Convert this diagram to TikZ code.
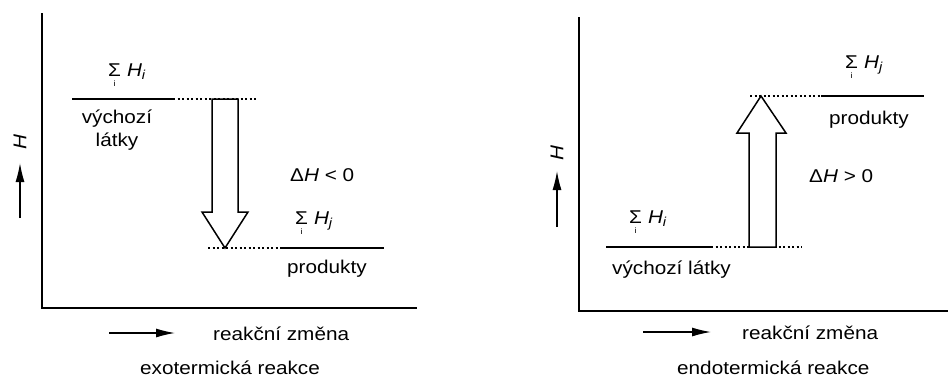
\documentclass[tikz,border=0pt]{standalone}
\usepackage{fontspec}
\setmainfont[FakeStretch=1.12]{Liberation Sans}
\usetikzlibrary{arrows.meta}

\newcommand{\sumH}[1]{{\sbox0{Σ}%
    \rlap{\hbox to \wd0{\hss\raisebox{-10pt}{\fontsize{8}{8}\selectfont i}\hss}}\usebox0}%
  \hspace{6pt}\textit{H}\textsubscript{\textit{#1}}}

\begin{document}
\begin{tikzpicture}[x=1pt, y=-1pt,
    axis/.style={line width=1.6pt},
    level/.style={line width=1.3pt},
    dotline/.style={line width=1.1pt, dash pattern=on 2pt off 2.5pt},
    harrow/.style={line width=1.3pt, -{Latex[length=19pt,width=9pt]}},
    blockarrow/.style={line width=1.5pt, fill=white},
    lbl/.style={anchor=base west, inner sep=0pt, font=\fontsize{18.5}{22}\selectfont},
    clbl/.style={anchor=base, inner sep=0pt, font=\fontsize{18.5}{22}\selectfont}]
    \useasboundingbox (0,0) rectangle (948,378);

    % exotermicka reakce
    \begin{scope}
        \coordinate (ytop1) at (42,13);
        \coordinate (orig1) at (42,308);
        \coordinate (xend1) at (417,308);
        \draw[axis] (ytop1) -- (orig1) -- (xend1);

        \coordinate (hlow1) at (20,218);
        \coordinate (hhigh1) at (20,163);
        \draw[harrow] (hlow1) -- (hhigh1);
        \node[rotate=90, inner sep=0pt, font=\fontsize{18.5}{22}\selectfont] (hlab1) at (20,142) {\textit{H}};

        \coordinate (vx1) at (72,99);
        \coordinate (vx2) at (173,99);
        \coordinate (vx3) at (258,99);
        \draw[level] (vx1) -- (vx2);
        \draw[dotline] (vx2) -- (vx3);

        \coordinate (pr1) at (208,248);
        \coordinate (pr2) at (280,248);
        \coordinate (pr3) at (384,248);
        \draw[dotline] (pr1) -- (pr2);
        \draw[level] (pr2) -- (pr3);

        \draw[blockarrow] (212,99) -- (238,99) -- (238,212) -- (248,212)
            -- (225,248) -- (202,212) -- (212,212) -- cycle;

        \node[lbl] (sumi1) at (108,76) {\sumH{i}};
        \node[clbl] (vych1) at (117,123) {výchozí};
        \node[clbl] (latky1) at (117,146) {látky};
        \node[lbl] (dh1) at (290,181) {Δ\textit{H} < 0};
        \node[lbl] (sumj1) at (295,224) {\sumH{j}};
        \node[lbl] (prod1) at (287,273) {produkty};

        \coordinate (rz1) at (109,333);
        \coordinate (rz2) at (175,333);
        \draw[harrow] (rz1) -- (rz2);
        \node[lbl] (zmena1) at (213,340) {reakční změna};
        \node[lbl] (nazev1) at (140,374) {exotermická reakce};
    \end{scope}

    % endotermicka reakce
    \begin{scope}
        \coordinate (ytop2) at (579,17);
        \coordinate (orig2) at (579,311);
        \coordinate (xend2) at (948,311);
        \draw[axis] (ytop2) -- (orig2) -- (xend2);

        \coordinate (hlow2) at (557,227);
        \coordinate (hhigh2) at (557,171);
        \draw[harrow] (hlow2) -- (hhigh2);
        \node[rotate=90, inner sep=0pt, font=\fontsize{18.5}{22}\selectfont] (hlab2) at (557,153) {\textit{H}};

        \coordinate (vx4) at (606,247);
        \coordinate (vx5) at (711,247);
        \coordinate (vx6) at (802,247);
        \draw[level] (vx4) -- (vx5);
        \draw[dotline] (vx5) -- (vx6);

        \coordinate (pr4) at (750,96);
        \coordinate (pr5) at (821,96);
        \coordinate (pr6) at (924,96);
        \draw[dotline] (pr4) -- (pr5);
        \draw[level] (pr5) -- (pr6);

        \draw[blockarrow] (749,247) -- (776,247) -- (776,133) -- (786,133)
            -- (761,96) -- (737,133) -- (749,133) -- cycle;

        \node[lbl] (sumj2) at (845,68) {\sumH{j}};
        \node[lbl] (prod2) at (829,124) {produkty};
        \node[lbl] (dh2) at (809,182) {Δ\textit{H} > 0};
        \node[lbl] (sumi2) at (629,223) {\sumH{i}};
        \node[lbl] (vych2) at (612,274) {výchozí látky};

        \coordinate (rz3) at (643,332);
        \coordinate (rz4) at (711,332);
        \draw[harrow] (rz3) -- (rz4);
        \node[lbl] (zmena2) at (742,339) {reakční změna};
        \node[lbl] (nazev2) at (677,374) {endotermická reakce};
    \end{scope}
\end{tikzpicture}
\end{document}
